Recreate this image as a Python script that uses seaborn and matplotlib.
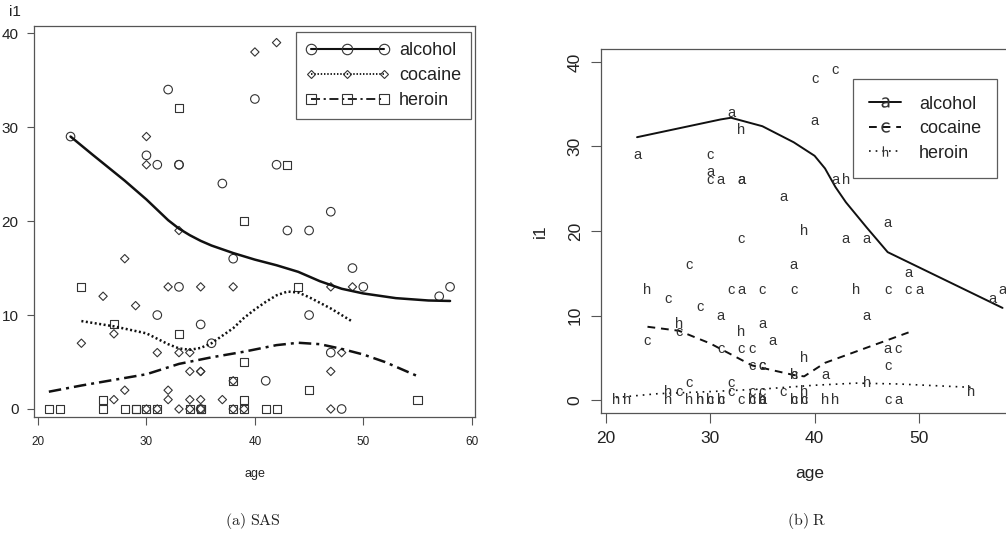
import numpy as np
import pandas as pd
import matplotlib
matplotlib.use('Agg')
import matplotlib.pyplot as plt
from matplotlib import font_manager
from matplotlib.lines import Line2D
import seaborn as sns

# ── Data ───────────────────────────────────────────────
alcohol_age = [23, 30, 31, 33, 33, 32, 37, 40, 42, 43, 45, 47, 38, 49, 50, 57, 58,
               33, 31, 35, 36, 45, 47, 41, 48, 35]
alcohol_i1 = [29, 27, 26, 26, 26, 34, 24, 33, 26, 19, 19, 21, 16, 15, 13, 12, 13,
              13, 10, 9, 7, 10, 6, 3, 0, 0]
cocaine_age = [30, 30, 40, 42, 33, 28, 26, 32, 35, 38, 47, 49, 29, 27, 24, 31, 33, 34, 48,
               34, 35, 35, 47, 38, 28, 32, 27, 32, 34, 35, 37,
               30, 31, 33, 34, 35, 38, 39, 47]
cocaine_i1 = [29, 26, 38, 39, 19, 16, 12, 13, 13, 13, 13, 13, 11, 8, 7, 6, 6, 6, 6,
              4, 4, 4, 4, 3, 2, 2, 1, 1, 1, 1, 1,
              0, 0, 0, 0, 0, 0, 0, 0]
heroin_age = [33, 39, 43, 24, 44, 27, 33, 39, 45, 38, 26, 39, 55,
              21, 22, 26, 28, 29, 29, 30, 31, 34, 35, 35, 38, 39, 41, 42]
heroin_i1 = [32, 20, 26, 13, 13, 9, 8, 5, 2, 3, 1, 1, 1,
             0, 0, 0, 0, 0, 0, 0, 0, 0, 0, 0, 0, 0, 0, 0]

drugs = ['alcohol', 'cocaine', 'heroin']

# smoothed curves, SAS (loess)
sas_alc_age = [23, 25, 28, 30, 31, 32, 33, 34, 35, 36, 37, 38, 40, 42, 44, 46, 48, 50,
               53, 56, 58]
sas_alc_fit = [29.0, 27.1, 24.3, 22.3, 21.2, 20.1, 19.2, 18.5, 17.9, 17.4, 17.0, 16.6,
               15.9, 15.3, 14.6, 13.6, 12.8, 12.3, 11.8, 11.55, 11.5]
sas_coc_age = [24, 27, 30, 32, 33, 34, 35, 36, 38, 39, 40, 41, 42, 43, 44, 45, 46, 47, 48, 49]
sas_coc_fit = [9.36, 8.8, 8.05, 6.9, 6.45, 6.3, 6.5, 7.0, 8.6, 9.7, 10.6, 11.4, 12.1,
               12.5, 12.4, 11.9, 11.3, 10.7, 10.0, 9.3]
sas_her_age = [21, 24, 27, 30, 33, 36, 39, 42, 44, 46, 48, 50, 52, 55]
sas_her_fit = [1.84, 2.5, 3.1, 3.7, 4.8, 5.5, 6.1, 6.8, 7.05, 6.9, 6.4, 5.8, 5.0, 3.5]

# smoothed curves, R (lowess)
r_alc_age = [23, 31, 32, 35, 38, 40, 41, 42, 43, 45, 47, 58]
r_alc_fit = [31.1, 33.2, 33.4, 32.4, 30.5, 28.9, 27.4, 25.2, 23.4, 20.4, 17.5, 10.9]
r_coc_age = [24, 27, 30, 32, 34, 35, 38, 39, 40, 41, 45, 49]
r_coc_fit = [8.67, 8.2, 6.7, 5.4, 4.1, 3.8, 2.96, 2.8, 3.6, 4.4, 6.2, 8.0]
r_her_age = [21, 25, 30, 35, 40, 44, 48, 55]
r_her_fit = [0.3, 0.75, 1.0, 1.3, 1.75, 2.0, 1.9, 1.5]

df = pd.concat([
    pd.DataFrame({'age': alcohol_age, 'i1': alcohol_i1, 'drug': 'alcohol'}),
    pd.DataFrame({'age': cocaine_age, 'i1': cocaine_i1, 'drug': 'cocaine'}),
    pd.DataFrame({'age': heroin_age, 'i1': heroin_i1, 'drug': 'heroin'}),
], ignore_index=True)

# ── Style ──────────────────────────────────────────────
sns.set_theme(style='ticks')
plt.rcParams['font.family'] = ['Liberation Sans', 'DejaVu Sans']
plt.rcParams['mathtext.fontset'] = 'cm'
names = {f.name for f in font_manager.fontManager.ttflist}
narrow = 'Liberation Sans Narrow' if 'Liberation Sans Narrow' in names else 'Liberation Sans'

W, H = 1006, 542
fig = plt.figure(figsize=(W / 100, H / 100), dpi=100)
ink = '#222222'
frame = '#555555'

# ── Panel (a): SAS ─────────────────────────────────────
ax1 = fig.add_axes([34 / W, 1 - 416.7 / H, 441 / W, 391 / H])
sas_markers = {'alcohol': ('o', 38), 'cocaine': ('D', 18), 'heroin': ('s', 34)}
for d in drugs:
    m, s = sas_markers[d]
    sns.scatterplot(data=df[df['drug'] == d], x='age', y='i1', marker=m, s=s,
                    facecolor='none', edgecolor='#333333', linewidth=0.8,
                    ax=ax1, legend=False)

sns.lineplot(x=sas_alc_age, y=sas_alc_fit, ax=ax1, color='#111111', lw=1.8)
sns.lineplot(x=sas_coc_age, y=sas_coc_fit, ax=ax1, color='#111111', lw=1.8,
             linestyle=(0, (0.8, 1.0)))
sns.lineplot(x=sas_her_age, y=sas_her_fit, ax=ax1, color='#111111', lw=1.8,
             linestyle=(0, (5, 2, 1.2, 2)))

ax1.set_xlim(19.63, 60.3)
ax1.set_ylim(-0.82, 40.8)
ax1.set_xticks([20, 30, 40, 50, 60])
ax1.set_yticks([0, 10, 20, 30, 40])
ax1.tick_params(axis='x', length=6, width=0.8, colors=frame, labelcolor=ink,
                labelsize=8.5, pad=8)
ax1.tick_params(axis='y', length=5, width=0.8, colors=frame, labelcolor=ink,
                labelsize=11, pad=6)
for lab in ax1.get_xticklabels():
    lab.set_fontfamily(narrow)
for sp in ax1.spines.values():
    sp.set_color(frame)
    sp.set_linewidth(0.9)
ax1.set_xlabel('age', fontsize=9, color=ink, labelpad=14.5, fontfamily=narrow)
ax1.set_ylabel('')
fig.text(15 / W, 1 - 12 / H, 'i1', fontsize=11, color=ink, ha='center', va='center')

sas_handles = [
    Line2D([], [], color='#111111', lw=1.5, ls='-', marker='o', ms=7.5,
           mfc='none', mec='#333333', mew=0.8),
    Line2D([], [], color='#111111', lw=1.3, ls=(0, (0.8, 1.0)), marker='D', ms=4.5,
           mfc='none', mec='#333333', mew=0.8),
    Line2D([], [], color='#111111', lw=1.3, ls=(0, (5, 2, 1.2, 2)), marker='s', ms=6.5,
           mfc='none', mec='#333333', mew=0.8),
]
leg1 = ax1.legend(sas_handles, drugs, loc='upper right', numpoints=3,
                  bbox_to_anchor=(471 / W, 1 - 32.3 / H), bbox_transform=fig.transFigure,
                  borderaxespad=0, fontsize=13, handlelength=4.6, handletextpad=0.55,
                  labelspacing=0.45, borderpad=0.55, frameon=True, fancybox=False)
leg1.get_frame().set_edgecolor('#333333')
leg1.get_frame().set_linewidth(0.9)
for t in leg1.get_texts():
    t.set_color(ink)

# ── Panel (b): R ───────────────────────────────────────
ax2 = fig.add_axes([600.7 / W, 1 - 413.3 / H, 417.3 / W, 364 / H])
letters = {'alcohol': 'a', 'cocaine': 'c', 'heroin': 'h'}
for _, row in df.iterrows():
    ax2.text(row['age'], row['i1'], letters[row['drug']], fontsize=10.5,
             color='#333333', ha='center', va='center', clip_on=True)

sns.lineplot(x=r_alc_age, y=r_alc_fit, ax=ax2, color='#111111', lw=1.4)
sns.lineplot(x=r_coc_age, y=r_coc_fit, ax=ax2, color='#111111', lw=1.4,
             linestyle=(0, (4, 3)))
sns.lineplot(x=r_her_age, y=r_her_fit, ax=ax2, color='#111111', lw=1.2,
             linestyle=(0, (1, 3)))

ax2.set_xlim(19.52, 59.48)
ax2.set_ylim(-1.57, 41.5)
ax2.set_xticks([20, 30, 40, 50])
ax2.set_yticks([0, 10, 20, 30, 40])
ax2.tick_params(axis='both', length=7, width=0.8, colors=frame, labelcolor=ink,
                labelsize=12.5, pad=6)
for lab in ax2.get_yticklabels():
    lab.set_rotation(90)
    lab.set_va('center')
for sp in ax2.spines.values():
    sp.set_color(frame)
    sp.set_linewidth(0.9)
ax2.set_xlabel('age', fontsize=12.5, color=ink, labelpad=14.5)
ax2.set_ylabel('i1', fontsize=12.5, color=ink, labelpad=14)

r_handles = [
    Line2D([], [], color='#111111', lw=1.4, ls='-', marker=r'$\mathsf{a}$', ms=7.5,
           mfc='#333333', mec='none', mew=0),
    Line2D([], [], color='#111111', lw=1.4, ls=(0, (4, 3)), marker=r'$\mathsf{c}$', ms=7.5,
           mfc='#333333', mec='none', mew=0),
    Line2D([], [], color='#111111', lw=1.2, ls=(0, (1, 3)), marker=r'$\mathsf{h}$', ms=7.5,
           mfc='#333333', mec='none', mew=0),
]
leg2 = ax2.legend(r_handles, drugs, loc='upper right', numpoints=1,
                  bbox_to_anchor=(997.3 / W, 1 - 79.3 / H), bbox_transform=fig.transFigure,
                  borderaxespad=0, fontsize=13, handlelength=1.75, handletextpad=1.0,
                  labelspacing=0.42, borderpad=0.9, frameon=True, fancybox=False)
leg2.get_frame().set_edgecolor('#333333')
leg2.get_frame().set_linewidth(0.9)
for t in leg2.get_texts():
    t.set_color(ink)

# ── Captions ──────────────────────────────────────────
fig.text(253 / W, 1 - 521 / H, r'$\mathrm{(a)\ SAS}$', fontsize=11.5, color=ink,
         ha='center', va='center')
fig.text(807 / W, 1 - 521 / H, r'$\mathrm{(b)\ R}$', fontsize=11.5, color=ink,
         ha='center', va='center')

fig.savefig('out.png', dpi=100, facecolor='white')
